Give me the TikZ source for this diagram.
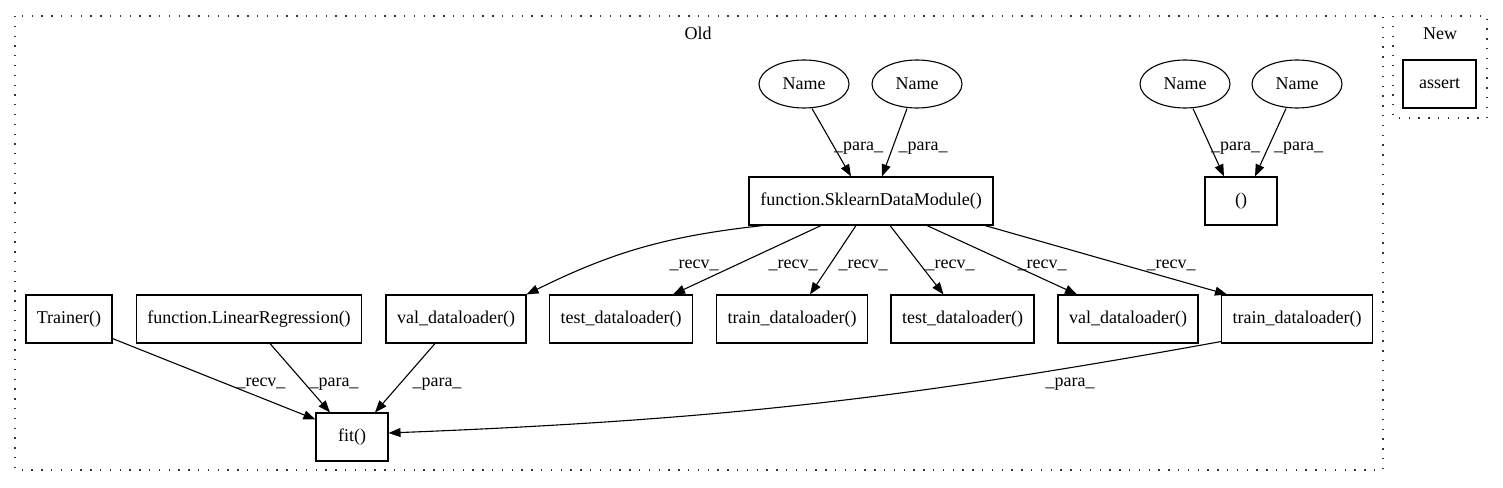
\documentclass[tikz,border=0pt]{standalone}
\usepackage{fontspec}
\setmainfont{Liberation Serif}
\usetikzlibrary{arrows.meta,shapes.geometric}
\begin{document}
\begin{tikzpicture}[x=1bp,y=-1bp,
  every node/.style={font=\fontsize{18bp}{21bp}\selectfont},
  box/.style={draw,line width=1.1bp,rectangle,inner sep=0pt,minimum height=48bp},
  oval/.style={draw,line width=1.1bp,ellipse,inner sep=0pt,minimum width=90bp,minimum height=48bp},
  cluster/.style={draw=black!80,line width=1.3bp,dash pattern=on 1.3bp off 8.5bp},
  edge/.style={draw,line width=1.1bp,-{Triangle[length=12bp,width=9bp]}},
  lab/.style={anchor=base,inner sep=0pt}]
\useasboundingbox (0,0) rectangle (1503,488);
% clusters
\draw[cluster] (15,16) rectangle (1383,470);
\draw[cluster] (1393,16) rectangle (1487,118);
\node[lab] (oldlab) at (698,40) {Old};
\node[lab] (newlab) at (1440,40) {New};
% nodes
\node[oval] (n1) at (804,84) {Name};
\node[oval] (n2) at (917,84) {Name};
\node[oval] (n3) at (1185,84) {Name};
\node[oval] (n4) at (1297,84) {Name};
\node[box,minimum width=244bp] (sdm) at (871,201) {function.SklearnDataModule()};
\node[box,minimum width=72bp] (paren) at (1241,201) {()};
\node[box,minimum width=73bp] (assert) at (1439.5,84) {assert};
\node[box,minimum width=86bp] (trainer) at (69,319) {Trainer()};
\node[box,minimum width=225bp] (linreg) at (249,319) {function.LinearRegression()};
\node[box,minimum width=140bp] (val1) at (456,319) {val\_dataloader()};
\node[box,minimum width=143bp] (test1) at (621,319) {test\_dataloader()};
\node[box,minimum width=151bp] (train1) at (792,319) {train\_dataloader()};
\node[box,minimum width=143bp] (test2) at (962.5,319) {test\_dataloader()};
\node[box,minimum width=140bp] (val2) at (1128,319) {val\_dataloader()};
\node[box,minimum width=151bp] (train2) at (1297,319) {train\_dataloader()};
\node[box,minimum width=72bp] (fit) at (352,437) {fit()};
% edges
\draw[edge] ([xshift=8bp]n1.south) -- ([xshift=-20bp]sdm.north);
\draw[edge] ([xshift=-10bp]n2.south) -- ([xshift=11bp]sdm.north);
\draw[edge] ([xshift=8bp]n3.south) -- ([xshift=-17bp]paren.north);
\draw[edge] ([xshift=-11bp]n4.south) -- ([xshift=14bp]paren.north);
\draw[edge] ([xshift=-108bp]sdm.south) to[bend right=10] (val1.north east);
\draw[edge] ([xshift=-50bp]sdm.south) -- ([xshift=52bp]test1.north);
\draw[edge] ([xshift=-15bp]sdm.south) -- ([xshift=18bp]train1.north);
\draw[edge] ([xshift=19bp]sdm.south) -- ([xshift=-19bp]test2.north);
\draw[edge] ([xshift=56bp]sdm.south) -- ([xshift=-51bp]val2.north);
\draw[edge] ([xshift=114bp]sdm.south) -- ([xshift=-70bp]train2.north);
\draw[edge] ([yshift=5bp]trainer.south east) -- ([yshift=-7bp]fit.north west);
\draw[edge] ([xshift=21bp]linreg.south) -- ([xshift=-22bp]fit.north);
\draw[edge] ([xshift=-21bp]val1.south) -- ([xshift=23bp]fit.north);
\draw[edge] ([yshift=2bp]train2.south west) to[bend left=4] ([yshift=4bp]fit.east);
% labels
\node[lab] (l1) at (858.5,151) {\_para\_};
\node[lab] (l2) at (923,151) {\_para\_};
\node[lab] (l3) at (1235.5,151) {\_para\_};
\node[lab] (l4) at (1298.5,151) {\_para\_};
\node[lab] (r1) at (694,269) {\_recv\_};
\node[lab] (r2) at (793,269) {\_recv\_};
\node[lab] (r3) at (863,269) {\_recv\_};
\node[lab] (r4) at (950,269) {\_recv\_};
\node[lab] (r5) at (1042,269) {\_recv\_};
\node[lab] (r6) at (1171,269) {\_recv\_};
\node[lab] (r7) at (261,386) {\_recv\_};
\node[lab] (p5) at (334,386) {\_para\_};
\node[lab] (p6) at (437,386) {\_para\_};
\node[lab] (p7) at (1070,386) {\_para\_};
\end{tikzpicture}
\end{document}
